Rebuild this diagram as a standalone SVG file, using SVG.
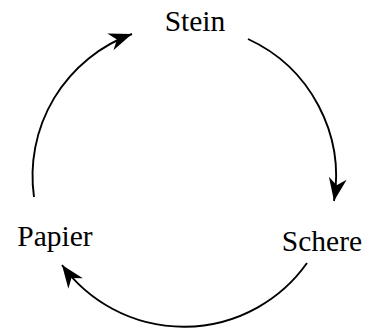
<svg xmlns="http://www.w3.org/2000/svg" width="371" height="330" viewBox="0 0 371 330">
  <style>
    .lbl { font-family: "Liberation Serif", "DejaVu Serif", serif; font-size: 29.5px; fill: #000; text-anchor: middle; }
    .edge { fill: none; stroke: #000; stroke-width: 1.9; marker-end: url(#arrow); }
  </style>
  <defs>
    <marker id="arrow" markerUnits="userSpaceOnUse" viewBox="-26 -11 28 22" markerWidth="28" markerHeight="22" refX="0" refY="0" orient="auto">
      <path d="M0,0 L-23,-9 L-16,0 L-23,9 Z" fill="#000"/>
    </marker>
  </defs>
  <rect width="371" height="330" fill="#fff"/>
  <g id="connectors">
    <path class="edge" d="M248,39 A151,151 0 0 1 334,201"/>
    <path class="edge" d="M307,263 A151,151 0 0 1 62,265"/>
    <path class="edge" d="M34,197 A151,151 0 0 1 132,34"/>
  </g>
  <g id="stein"><text class="lbl" x="195" y="31">Stein</text></g>
  <g id="papier"><text class="lbl" x="55" y="246">Papier</text></g>
  <g id="schere"><text class="lbl" x="322" y="251">Schere</text></g>
</svg>
